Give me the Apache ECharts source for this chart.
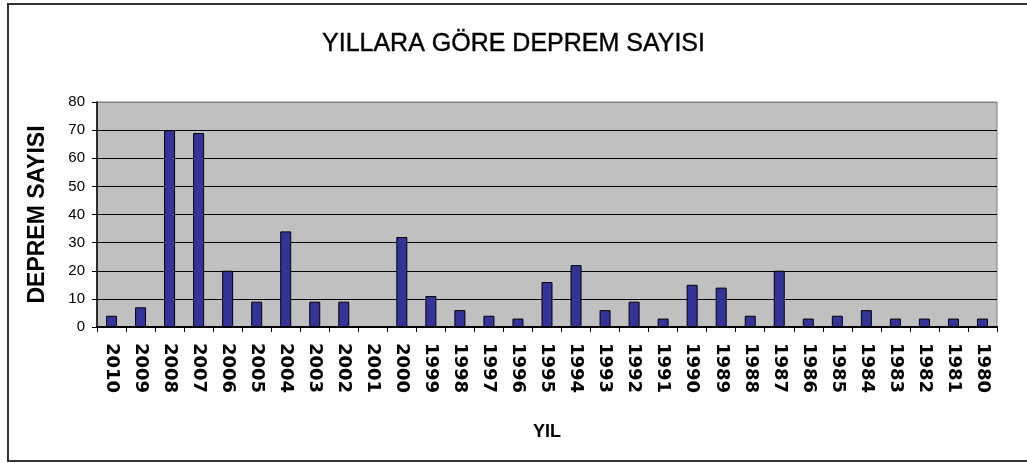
<!DOCTYPE html>
<html>
<head>
<meta charset="utf-8">
<script src="https://cdn.jsdelivr.net/npm/echarts@6/dist/echarts.min.js"></script>
<style>html,body{margin:0;padding:0;background:#fff;}#c{width:1027px;height:463px;}</style>
</head>
<body>
<div id="c"></div>
<script>
var years = ['2010','2009','2008','2007','2006','2005','2004','2003','2002','2001','2000','1999','1998','1997','1996','1995','1994','1993','1992','1991','1990','1989','1988','1987','1986','1985','1984','1983','1982','1981','1980'];
var counts = [4,7,70,69,20,9,34,9,9,0,32,11,6,4,3,16,22,6,9,3,15,14,4,20,3,4,6,3,3,3,3];
var yTicks = [0,10,20,30,40,50,60,70,80];

var chart = echarts.init(document.getElementById('c'), null, {renderer:'canvas'});
chart.setOption({
  animation: false,
  backgroundColor: '#fff',
  title: {
    text: 'YILLARA GÖRE DEPREM SAYISI',
    left: 'center', top: 27,
    textStyle: {fontFamily: 'Liberation Sans', fontSize: 25, fontWeight: 'normal', color: '#000', textBorderColor: '#000', textBorderWidth: 0.4}
  },
  graphic: [{
    type: 'rect', silent: true,
    shape: {x: 8, y: 4, width: 1040, height: 457},
    style: {fill: 'none', stroke: '#333', lineWidth: 2}
  }],
  grid: {left: 97, right: 30, top: 102, bottom: 136, show: true, backgroundColor: '#c0c0c0', borderColor: '#808080', borderWidth: 1},
  xAxis: {
    type: 'category', data: years,
    name: 'YIL', nameLocation: 'middle', nameGap: 96,
    nameTextStyle: {fontFamily: 'Liberation Sans', fontWeight: 'bold', fontSize: 18, color: '#000'},
    axisLine: {lineStyle: {color: '#000', width: 2}},
    axisTick: {show: true, length: 5, lineStyle: {color: '#000'}},
    axisLabel: {rotate: -90, interval: 0, margin: 16, fontFamily: 'DejaVu Sans', fontWeight: 'bold', fontSize: 18, color: '#000'}
  },
  yAxis: {
    type: 'value', min: yTicks[0], max: yTicks[yTicks.length-1], interval: 10,
    name: 'DEPREM SAYISI', nameLocation: 'middle', nameGap: 48, nameRotate: 90,
    nameTextStyle: {fontFamily: 'Liberation Sans', fontWeight: 'bold', fontSize: 23, color: '#000'},
    axisLine: {show: true, lineStyle: {color: '#000', width: 1.5}},
    axisTick: {show: true, length: 5, lineStyle: {color: '#000'}},
    axisLabel: {margin: 12, fontFamily: 'Liberation Sans', fontSize: 15, color: '#000'},
    splitLine: {show: true, lineStyle: {color: ['#000','#000','#000','#000','#000','#000','#000','#000','#808080'], width: 1}}
  },
  series: [{
    type: 'bar', data: counts, barWidth: 11,
    itemStyle: {color: '#333399', borderColor: '#000', borderWidth: 1}
  }]
});
</script>
</body>
</html>
